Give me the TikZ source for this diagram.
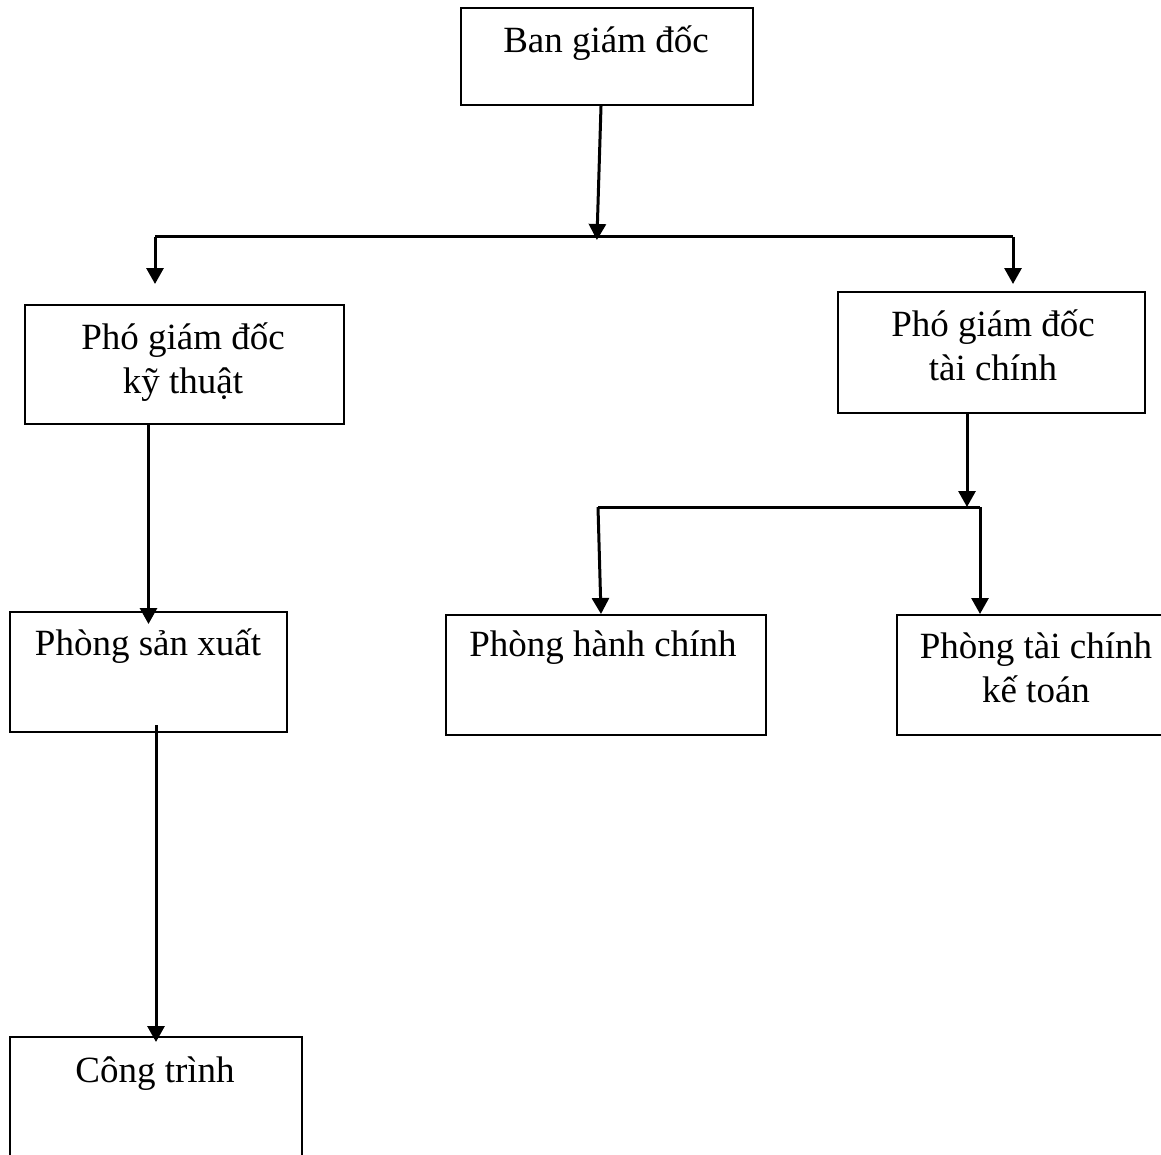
\documentclass[tikz,border=0pt]{standalone}
\usepackage{fontspec}
\setmainfont{Liberation Serif}
\usetikzlibrary{arrows.meta}

\begin{document}
\begin{tikzpicture}[x=0.5pt,y=-0.5pt,
  box/.style={draw, line width=1pt, inner sep=0pt},
  txt/.style={inner sep=0pt, anchor=base, align=center, font=\fontsize{18.5}{22}\selectfont},
  conn/.style={line width=1.5pt},
  arr/.style={conn, -{Triangle[width=8.5pt,length=8pt]}}]

	\useasboundingbox (0,0) rectangle (1161,1155);

	%%%%% BOXES %%%%%
	\node[box, minimum width=146pt, minimum height=48.5pt] (bgd) at (607,56.5) {};
	\node[box, minimum width=159.5pt, minimum height=59.5pt] (pkt) at (184.5,364.5) {};
	\node[box, minimum width=153.5pt, minimum height=60.5pt] (ptc) at (991.5,352.5) {};
	\node[box, minimum width=138.5pt, minimum height=60pt] (psx) at (148.5,672) {};
	\node[box, minimum width=160pt, minimum height=60pt] (phc) at (606,675) {};
	\node[box, minimum width=139pt, minimum height=60pt] (ptckt) at (1036,675) {};
	\node[box, minimum width=146pt, minimum height=76.5pt] (ct) at (156,1113.5) {};

	%%%%% TEXTS (base = last line) %%%%%
	\node[txt] (t-bgd) at (606,53) {Ban giám đốc};
	\node[txt] (t-pkt) at (183,393) {Phó giám đốc\\kỹ thuật};
	\node[txt] (t-ptc) at (993,380) {Phó giám đốc\\tài chính};
	\node[txt] (t-psx) at (148,655) {Phòng sản xuất};
	\node[txt] (t-phc) at (603,656) {Phòng hành chính};
	\node[txt] (t-ptckt) at (1036,702) {Phòng tài chính\\kế toán};
	\node[txt] (t-ct) at (155,1082) {Công trình};

	%%%%% JOINTS %%%%%
	\coordinate (jtop) at (597,237);
	\coordinate (jl) at (155,237);
	\coordinate (jr) at (1013,237);
	\coordinate (jb) at (967,507);
	\coordinate (jbl) at (598,507);
	\coordinate (jbr) at (980,507);

	%%%%% CONNECTORS %%%%%
	\draw[arr, shorten >=-1.5pt] ([xshift=-3pt]bgd.south) -- (jtop);
	\draw[conn] (jl) -- (jr);
	\draw[arr, shorten >=10pt] (jl) -- (jl |- pkt.north);
	\draw[arr, shorten >=3.5pt] (jr) -- (jr |- ptc.north);
	\draw[arr, shorten >=-6.5pt] (psx.north |- pkt.south) -- (psx.north);
	\draw[arr, shorten <=-4pt, shorten >=-3pt] (ct.north |- psx.south) -- (ct.north);

	\draw[arr] (jb |- ptc.south) -- (jb);
	\draw[conn] (jbl) -- (jbr);
	\draw[arr] (jbl) -- ([xshift=-2.5pt]phc.north);
	\draw[arr] (jbr) -- (jbr |- ptckt.north);

\end{tikzpicture}
\end{document}
